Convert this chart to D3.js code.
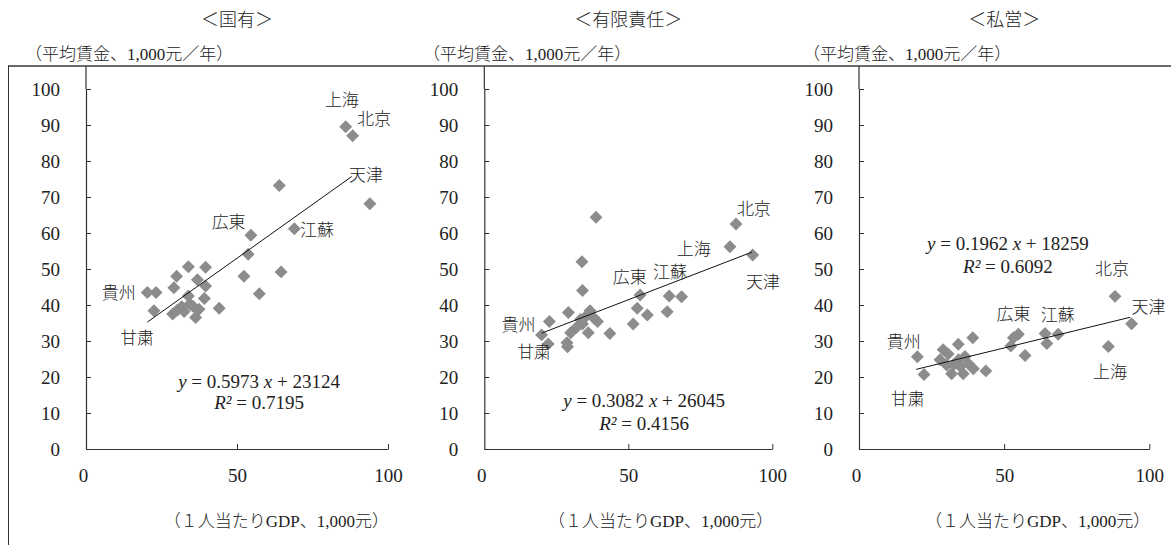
<!DOCTYPE html>
<html>
<head>
<meta charset="utf-8">
<script src="https://cdn.jsdelivr.net/npm/d3@7"></script>
<style>
  body { margin: 0; background: #fff; }
  svg text { font-family: "Liberation Serif", "Noto Sans CJK JP", serif; fill: #222; }
</style>
</head>
<body>
<script>
// 1人当たりGDP (1,000元) と 平均賃金 (1,000元/年)
const stateGdp  = [86.0, 88.3, 64.0, 94.0, 69.0, 54.6, 53.7, 33.9, 39.6, 64.6, 30.0, 52.3, 36.9, 29.1, 39.6, 20.3, 23.2, 57.4, 39.2, 33.9, 22.5, 28.7, 31.7, 34.4, 37.4, 44.1, 36.3, 32.5, 35.5, 30.3];
const stateWage = [89.5, 87.0, 73.2, 68.1, 61.2, 59.4, 54.1, 50.6, 50.5, 49.2, 48.0, 48.0, 47.0, 44.8, 45.3, 43.5, 43.5, 43.1, 41.8, 42.5, 38.4, 37.5, 39.5, 40.3, 38.8, 39.1, 36.5, 38.2, 39.6, 38.6];

const ltdGdp  = [87.4, 85.3, 93.2, 38.8, 33.9, 34.1, 54.1, 64.2, 68.5, 53.1, 56.6, 63.5, 51.7, 43.6, 29.2, 36.7, 39.3, 36.1, 34.1, 32.1, 30.0, 28.9, 22.6, 19.9, 22.2, 38.1, 33.4, 35.5, 28.7];
const ltdWage = [62.5, 56.2, 53.9, 64.4, 52.0, 44.0, 42.8, 42.5, 42.3, 39.1, 37.2, 38.1, 34.7, 32.1, 37.9, 38.4, 35.4, 32.3, 34.7, 33.8, 32.3, 28.4, 35.4, 31.7, 29.2, 36.3, 36.0, 37.0, 29.5];

const privGdp  = [88.2, 93.9, 85.9, 68.6, 64.1, 64.7, 54.9, 53.2, 52.3, 57.2, 39.2, 34.2, 43.7, 20.1, 22.4, 29.0, 27.9, 30.2, 31.9, 35.9, 36.5, 34.3, 37.7, 39.4, 32.6, 34.9, 30.7];
const privWage = [42.4, 34.8, 28.5, 31.9, 32.1, 29.3, 31.9, 30.9, 28.6, 26.0, 30.9, 29.1, 21.7, 25.6, 20.7, 27.6, 24.8, 23.3, 20.9, 20.9, 25.7, 24.8, 23.7, 22.3, 23.4, 22.9, 26.4];

// trend lines: slope, intercept (1,000元), x span
const trendSlope = [0.5973, 0.3082, 0.1962];
const trendIntercept = [23.124, 26.045, 18.259];
const trendFrom = [20.3, 19.9, 19.7];
const trendTo = [88.0, 93.0, 93.4];
const eqSlopeText = ["0.5973", "0.3082", "0.1962"];
const eqInterceptText = ["23124", "26045", "18259"];
const r2Text = ["0.7195", "0.4156", "0.6092"];

const panelTitles = ["＜国有＞", "＜有限責任＞", "＜私営＞"];
const xTicks = [0, 50, 100];
const yTicks = [0, 10, 20, 30, 40, 50, 60, 70, 80, 90, 100];

// province labels, anchored in data units [x, y]
const provinceNames = ["上海", "北京", "天津", "広東", "江蘇", "貴州", "甘粛"];
const labelAt = [
  [[79.1, 95.3], [89.7, 90.0], [87.1, 74.4], [41.6, 61.4], [70.9, 59.2], [5.2, 41.7], [11.3, 29.2]],
  [[66.8, 53.9], [87.7, 65.0], [90.9, 44.7], [44.6, 46.1], [58.6, 47.5], [6.0, 32.8], [11.4, 25.3]],
  [[80.6, 19.6], [81.3, 48.2], [93.9, 37.7], [47.4, 35.8], [62.6, 35.5], [9.6, 28.0], [10.9, 12.2]]
];
// equation anchor (center x, first baseline y, second baseline y) in data units
const eqAt = [[57.3, 16.9, 11.1], [55.5, 11.75, 5.3], [51.3, 55.2, 48.9]];

const W = 1171, H = 545;
const frameTop = 66;
const panelX = [[86, 388], [484.3, 772.3], [859, 1149.3]];
const yPx = [449, 89];
const titleLeft = [25, 423, 803];

const svg = d3.select("body").append("svg")
  .attr("width", W)
  .attr("height", H);

// outer frame (top and left)
svg.append("line")
  .attr("x1", 8).attr("x2", W).attr("y1", frameTop).attr("y2", frameTop)
  .attr("stroke", "#6a6a6a").attr("stroke-width", 2);
svg.append("line")
  .attr("x1", 8.5).attr("x2", 8.5).attr("y1", frameTop).attr("y2", H)
  .attr("stroke", "#333").attr("stroke-width", 1);

const panels = [
  {gdp: stateGdp, wage: stateWage},
  {gdp: ltdGdp, wage: ltdWage},
  {gdp: privGdp, wage: privWage}
];

panels.forEach(function(p, i) {
  const x = d3.scaleLinear().domain([0, 100]).range(panelX[i]);
  const y = d3.scaleLinear().domain([0, 100]).range(yPx);
  const g = svg.append("g");

  // title
  g.append("text")
    .attr("x", (panelX[i][0] + panelX[i][1]) / 2)
    .attr("y", 26)
    .attr("text-anchor", "middle")
    .style("font-size", "18px")
    .style("font-weight", 300)
    .text(panelTitles[i]);

  g.append("text")
    .attr("x", titleLeft[i])
    .attr("y", 60)
    .style("font-size", "17px")
    .style("font-weight", 300)
    .text("（平均賃金、1,000元／年）");

  // axes
  const yAxis = d3.axisLeft(y).tickValues(yTicks).tickSizeInner(-5).tickSizeOuter(0).tickPadding(26);
  const xAxis = d3.axisBottom(x).tickValues(xTicks).tickSizeInner(-5).tickSizeOuter(0).tickPadding(20);

  const gy = g.append("g").attr("transform", "translate(" + x(0) + ",0)").call(yAxis);
  const gx = g.append("g").attr("transform", "translate(0," + y(0) + ")").call(xAxis);
  gx.selectAll(".tick").filter(d => d === 0).select("line").remove();
  gx.selectAll(".tick").filter(d => d === 0).select("text").attr("x", -3);
  [gx, gy].forEach(function(a) {
    a.select(".domain").attr("stroke", "#333").attr("stroke-width", 1.2);
    a.selectAll(".tick line").attr("stroke", "#333");
    a.selectAll("text").style("font-size", "19px").style("font-family", "Liberation Serif").attr("fill", "#222");
  });
  // y axis line runs up to the frame
  g.append("line")
    .attr("x1", x(0)).attr("x2", x(0))
    .attr("y1", y(100)).attr("y2", frameTop)
    .attr("stroke", "#333").attr("stroke-width", 1.2);

  g.append("text")
    .attr("x", panelX[i][1] + 1)
    .attr("y", 527)
    .attr("text-anchor", "end")
    .style("font-size", "17px")
    .style("font-weight", 300)
    .text("（１人当たりGDP、1,000元）");

  // points
  const pts = p.gdp.map((v, k) => [v, p.wage[k]]);
  g.selectAll("path.pt")
    .data(pts)
    .enter()
    .append("path")
    .attr("class", "pt")
    .attr("d", d3.symbol(d3.symbolSquare, 84))
    .attr("transform", d => "translate(" + x(d[0]) + "," + y(d[1]) + ") rotate(45)")
    .attr("fill", "#8c8c8c");

  // trend line
  const line = d3.line().x(d => x(d)).y(d => y(trendSlope[i] * d + trendIntercept[i]));
  g.append("path")
    .attr("d", line([trendFrom[i], trendTo[i]]))
    .attr("fill", "none")
    .attr("stroke", "#111")
    .attr("stroke-width", 1);

  // province labels
  g.selectAll("text.prov")
    .data(provinceNames)
    .enter()
    .append("text")
    .attr("class", "prov")
    .attr("x", (d, k) => x(labelAt[i][k][0]))
    .attr("y", (d, k) => y(labelAt[i][k][1]))
    .style("font-size", "17px")
    .style("font-weight", 300)
    .style("font-family", "Noto Sans CJK JP")
    .text(d => d);

  // regression equation
  const eq = g.append("text")
    .attr("x", x(eqAt[i][0]))
    .attr("y", y(eqAt[i][1]))
    .attr("text-anchor", "middle")
    .style("font-size", "19px");
  eq.append("tspan").style("font-style", "italic").text("y");
  eq.append("tspan").text(" = " + eqSlopeText[i] + " ");
  eq.append("tspan").style("font-style", "italic").text("x");
  eq.append("tspan").text(" + " + eqInterceptText[i]);

  const r2 = g.append("text")
    .attr("x", x(eqAt[i][0]))
    .attr("y", y(eqAt[i][2]))
    .attr("text-anchor", "middle")
    .style("font-size", "19px");
  r2.append("tspan").style("font-style", "italic").text("R²");
  r2.append("tspan").text(" = " + r2Text[i]);
});
</script>
</body>
</html>
